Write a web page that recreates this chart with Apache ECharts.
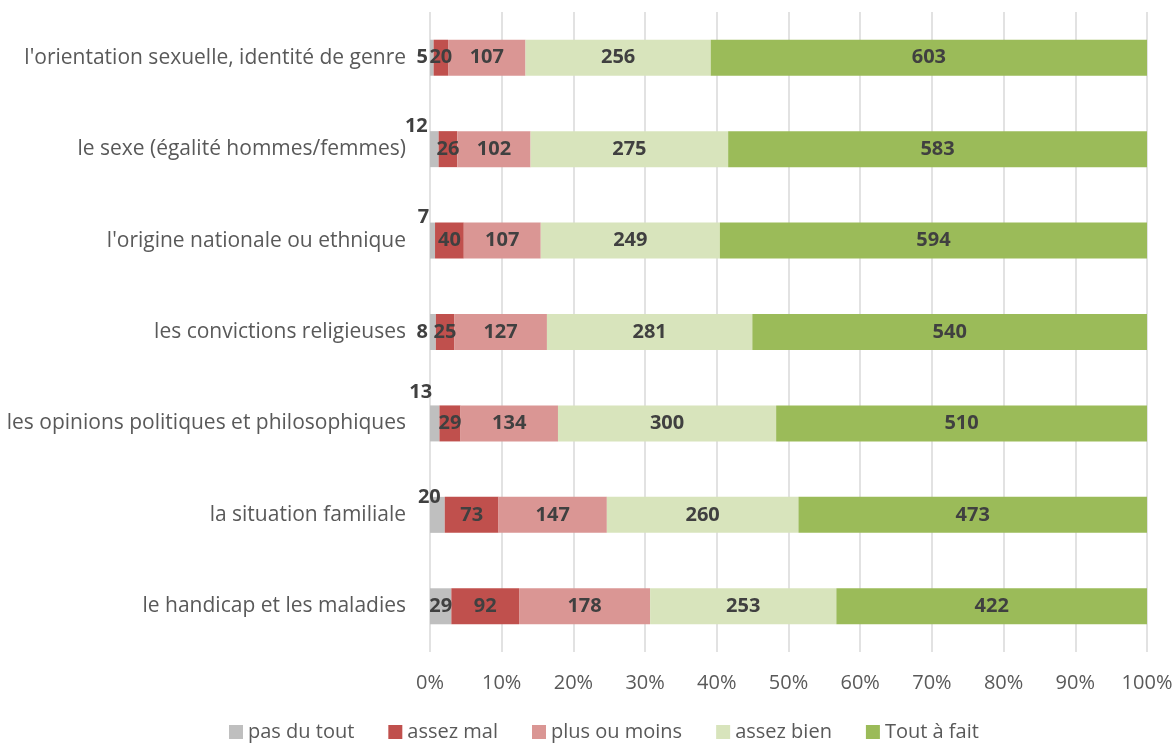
<!DOCTYPE html>
<html>
<head>
<meta charset="utf-8">
<script src="https://cdn.jsdelivr.net/npm/echarts@6/dist/echarts.min.js"></script>
<style>
  html, body { margin: 0; padding: 0; background: #fff; }
  #chart { width: 1176px; height: 745px; }
</style>
</head>
<body>
<div id="chart"></div>
<script>
// catégories (de haut en bas)
const categories = [
    "l'orientation sexuelle, identité de genre",
    "le sexe (égalité hommes/femmes)",
    "l'origine nationale ou ethnique",
    "les convictions religieuses",
    "les opinions politiques et philosophiques",
    "la situation familiale",
    "le handicap et les maladies"
];
const seriesNames = ["pas du tout", "assez mal", "plus ou moins", "assez bien", "Tout à fait"];
const pasDuTout = [5, 12, 7, 8, 13, 20, 29];
const assezMal = [20, 26, 40, 25, 29, 73, 92];
const plusOuMoins = [107, 102, 107, 127, 134, 147, 178];
const assezBien = [256, 275, 249, 281, 300, 260, 253];
const toutAFait = [603, 583, 594, 540, 510, 473, 422];
const xTicks = ["0%", "10%", "20%", "30%", "40%", "50%", "60%", "70%", "80%", "90%", "100%"];

const couleurs = ["#bfbfbf", "#c0504d", "#da9694", "#d8e4bc", "#9bbb59"];
const comptes = [pasDuTout, assezMal, plusOuMoins, assezBien, toutAFait];

// placement des petites étiquettes "pas du tout"
const labelPasDuTout = [
    {position: 'left', distance: 2, offset: [0, 0]},
    {position: 'top', distance: 5, offset: [-18, 10]},
    {position: 'top', distance: 5, offset: [-9, 10]},
    {position: 'left', distance: 2, offset: [0, 0]},
    {position: 'top', distance: 5, offset: [-14, 2]},
    {position: 'top', distance: 5, offset: [-8, 15]},
    {position: 'inside', distance: 0, offset: [0, 0]}
];

const totaux = categories.map((c, i) => comptes.reduce((s, arr) => s + arr[i], 0));

const series = comptes.map((arr, k) => ({
    name: seriesNames[k],
    type: 'bar',
    stack: 'total',
    barWidth: 36,
    itemStyle: {color: couleurs[k]},
    label: {
        show: true,
        position: 'inside',
        color: '#404040',
        fontWeight: 'bold',
        fontSize: 20,
        fontFamily: 'Open Sans',
        formatter: p => arr[p.dataIndex]
    },
    data: arr.map((v, i) => {
        const item = {value: v / totaux[i] * 100};
        if (k === 0) item.label = labelPasDuTout[i];
        return item;
    })
}));

const chart = echarts.init(document.getElementById("chart"));
chart.setOption({
    animation: false,
    textStyle: {fontFamily: 'Open Sans'},
    grid: {left: 430, right: 29, top: 12, bottom: 93, containLabel: false},
    xAxis: {
        type: 'value',
        min: 0,
        max: 100,
        interval: 10,
        axisLine: {show: false},
        axisTick: {show: false},
        splitLine: {lineStyle: {color: '#d9d9d9', width: 1.5}},
        axisLabel: {
            color: '#595959',
            fontSize: 20,
            margin: 21,
            formatter: v => xTicks[Math.round(v / 10)]
        }
    },
    yAxis: {
        type: 'category',
        inverse: true,
        data: categories,
        axisLine: {show: false},
        axisTick: {show: false},
        axisLabel: {color: '#595959', fontSize: 21, margin: 24}
    },
    legend: {
        top: 717,
        left: 224,
        icon: 'rect',
        itemWidth: 14,
        itemHeight: 14,
        itemGap: 34,
        itemStyle: {borderWidth: 0},
        textStyle: {color: '#595959', fontSize: 20},
        data: seriesNames
    },
    series: series
});
</script>
</body>
</html>
